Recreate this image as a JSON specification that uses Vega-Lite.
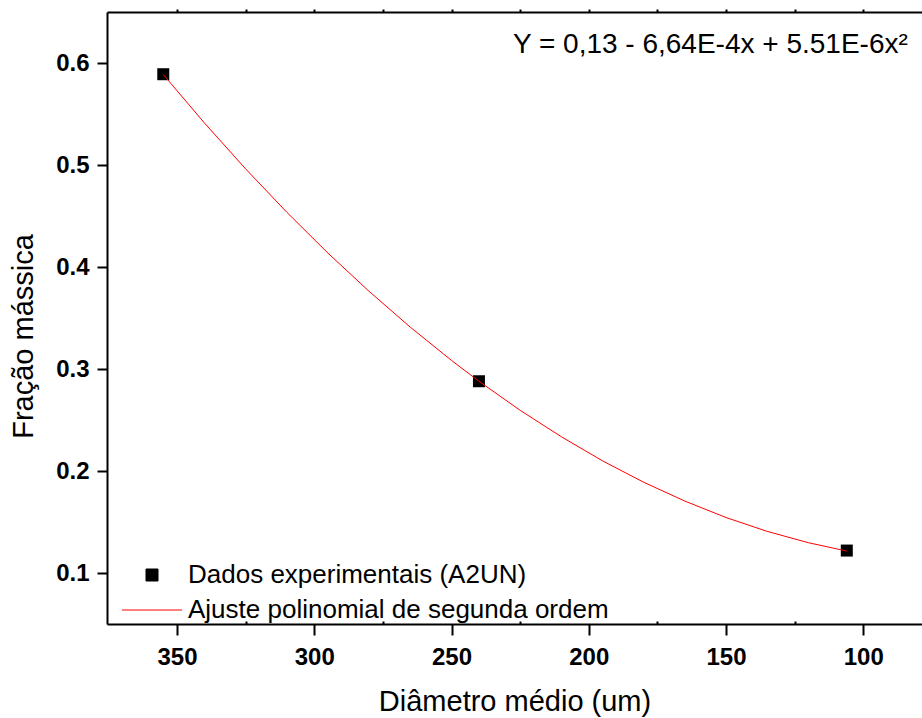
{
  "$schema": "https://vega.github.io/schema/vega-lite/v6.json",
  "autosize": {"type": "none"},
  "padding": {"left": 107, "top": 12, "right": 0, "bottom": 94},
  "width": 815,
  "height": 612,
  "background": "white",
  "config": {
    "view": {"stroke": null},
    "font": "Liberation Sans",
    "axis": {
      "grid": false,
      "domainColor": "black",
      "tickColor": "black",
      "labelColor": "black",
      "titleColor": "black",
      "domainWidth": 2,
      "tickWidth": 2,
      "labelFont": "Liberation Sans",
      "titleFont": "Liberation Sans"
    }
  },
  "datasets": {
    "pts": [
      {"diametro": 355, "fracao": 0.589, "serie": "Dados experimentais (A2UN)"},
      {"diametro": 240, "fracao": 0.288, "serie": "Dados experimentais (A2UN)"},
      {"diametro": 106, "fracao": 0.122, "serie": "Dados experimentais (A2UN)"}
    ],
    "fit": [
      {"diametro": 355, "fracao": 0.5887, "serie": "Ajuste polinomial de segunda ordem"},
      {"diametro": 340, "fracao": 0.5412, "serie": "Ajuste polinomial de segunda ordem"},
      {"diametro": 325, "fracao": 0.4962, "serie": "Ajuste polinomial de segunda ordem"},
      {"diametro": 310, "fracao": 0.4537, "serie": "Ajuste polinomial de segunda ordem"},
      {"diametro": 295, "fracao": 0.4136, "serie": "Ajuste polinomial de segunda ordem"},
      {"diametro": 280, "fracao": 0.3761, "serie": "Ajuste polinomial de segunda ordem"},
      {"diametro": 265, "fracao": 0.3410, "serie": "Ajuste polinomial de segunda ordem"},
      {"diametro": 250, "fracao": 0.3084, "serie": "Ajuste polinomial de segunda ordem"},
      {"diametro": 240, "fracao": 0.2880, "serie": "Ajuste polinomial de segunda ordem"},
      {"diametro": 225, "fracao": 0.2595, "serie": "Ajuste polinomial de segunda ordem"},
      {"diametro": 210, "fracao": 0.2336, "serie": "Ajuste polinomial de segunda ordem"},
      {"diametro": 195, "fracao": 0.2100, "serie": "Ajuste polinomial de segunda ordem"},
      {"diametro": 180, "fracao": 0.1890, "serie": "Ajuste polinomial de segunda ordem"},
      {"diametro": 165, "fracao": 0.1705, "serie": "Ajuste polinomial de segunda ordem"},
      {"diametro": 150, "fracao": 0.1544, "serie": "Ajuste polinomial de segunda ordem"},
      {"diametro": 135, "fracao": 0.1408, "serie": "Ajuste polinomial de segunda ordem"},
      {"diametro": 120, "fracao": 0.1297, "serie": "Ajuste polinomial de segunda ordem"},
      {"diametro": 106, "fracao": 0.1215, "serie": "Ajuste polinomial de segunda ordem"}
    ],
    "eq": [
      {"diametro": 227.6, "fracao": 0.6101, "texto": "Y = 0,13 - 6,64E-4x + 5.51E-6x²"}
    ]
  },
  "layer": [
    {
      "data": {"name": "pts"},
      "mark": {"type": "point", "filled": true, "size": 144, "opacity": 1},
      "encoding": {
        "x": {
          "field": "diametro", "type": "quantitative",
          "scale": {"domain": [375.5, 78.6], "nice": false, "zero": false},
          "axis": {
            "orient": "bottom",
            "values": [350, 300, 250, 200, 150, 100],
            "format": "d",
            "tickSize": 11,
            "labelFontSize": 24,
            "labelFontWeight": "bold",
            "labelPadding": 10,
            "title": "Diâmetro médio (um)",
            "titleFontSize": 29,
            "titleFontWeight": "normal",
            "titlePadding": 18
          }
        },
        "y": {
          "field": "fracao", "type": "quantitative",
          "scale": {"domain": [0.05, 0.65], "nice": false, "zero": false},
          "axis": {
            "orient": "left",
            "values": [0.1, 0.2, 0.3, 0.4, 0.5, 0.6],
            "format": ".1f",
            "tickSize": 10,
            "labelFontSize": 24,
            "labelFontWeight": "bold",
            "labelPadding": 8,
            "title": "Fração mássica",
            "titleFontSize": 29,
            "titleFontWeight": "normal",
            "titlePadding": 17,
            "titleY": 324
          }
        },
        "color": {
          "field": "serie", "type": "nominal",
          "scale": {"domain": ["Dados experimentais (A2UN)", "Ajuste polinomial de segunda ordem"], "range": ["#000000", "#ff0000"]},
          "legend": {
            "orient": "none", "legendX": 16, "legendY": 550, "title": null,
            "labelFont": "Liberation Sans", "labelFontSize": 26, "labelColor": "black", "labelLimit": 0,
            "labelOffset": 23, "symbolOffset": 16, "symbolSize": 144, "rowPadding": 9, "padding": 0,
            "symbolStrokeWidth": 1,
            "encode": {"symbols": {"update": {"fill": {"scale": "color", "field": "value"}, "stroke": {"scale": "color", "field": "value"}, "opacity": {"value": 1}}}}
          }
        },
        "shape": {
          "field": "serie", "type": "nominal",
          "scale": {"domain": ["Dados experimentais (A2UN)", "Ajuste polinomial de segunda ordem"], "range": ["M-1,-1H1V1H-1Z", "M-5,0H5"]},
          "legend": {
            "orient": "none", "legendX": 16, "legendY": 550, "title": null,
            "labelFont": "Liberation Sans", "labelFontSize": 26, "labelColor": "black", "labelLimit": 0,
            "labelOffset": 23, "symbolOffset": 16, "symbolSize": 144, "rowPadding": 9, "padding": 0,
            "symbolStrokeWidth": 1,
            "encode": {"symbols": {"update": {"fill": {"scale": "color", "field": "value"}, "stroke": {"scale": "color", "field": "value"}, "opacity": {"value": 1}}}}
          }
        }
      }
    },
    {
      "data": {"name": "fit"},
      "mark": {"type": "line", "strokeWidth": 1},
      "encoding": {
        "x": {
          "field": "diametro", "type": "quantitative",
          "scale": {"domain": [375.5, 78.6], "nice": false, "zero": false},
          "axis": {"orient": "top", "values": [350, 325, 300, 275, 250, 225, 200, 175, 150, 125, 100], "tickSize": 3, "labels": false, "title": null}
        },
        "y": {
          "field": "fracao", "type": "quantitative",
          "scale": {"domain": [0.05, 0.65], "nice": false, "zero": false},
          "axis": null
        },
        "color": {"field": "serie", "type": "nominal", "legend": null}
      }
    },
    {
      "data": {"name": "eq"},
      "mark": {"type": "text", "align": "left", "baseline": "alphabetic", "font": "Liberation Sans", "fontSize": 28, "color": "black"},
      "encoding": {
        "x": {
          "field": "diametro", "type": "quantitative",
          "scale": {"domain": [375.5, 78.6], "nice": false, "zero": false},
          "axis": {"orient": "bottom", "values": [325, 275, 225, 175, 125], "tickSize": -3, "domain": false, "labels": false, "title": null}
        },
        "y": {
          "field": "fracao", "type": "quantitative",
          "scale": {"domain": [0.05, 0.65], "nice": false, "zero": false},
          "axis": null
        },
        "text": {"field": "texto"}
      }
    }
  ],
  "resolve": {"axis": {"x": "independent", "y": "independent"}}
}
